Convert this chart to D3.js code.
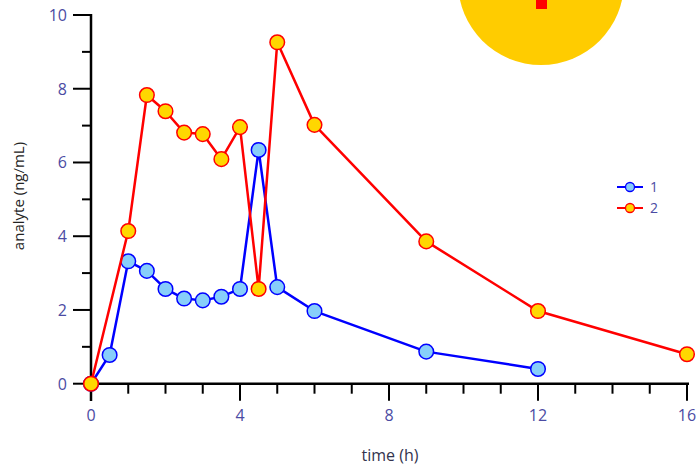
<!DOCTYPE html>
<html><head><meta charset="utf-8">
<script src="https://cdn.jsdelivr.net/npm/d3@7"></script>
<style>body{margin:0;background:#fff;}svg{display:block;font-family:"Open Sans","Noto Sans",sans-serif;}</style>
</head><body>
<svg id="c" width="699" height="465"></svg>
<script>
const times1 = [0,0.5,1,1.5,2,2.5,3,3.5,4,4.5,5,6,9,12];
const values1 = [0,0.78,3.32,3.06,2.57,2.31,2.26,2.36,2.57,6.34,2.62,1.97,0.87,0.40];
const times2 = [0,1,1.5,2,2.5,3,3.5,4,4.5,5,6,9,12,16];
const values2 = [0,4.14,7.83,7.39,6.81,6.77,6.09,6.96,2.57,9.26,7.02,3.86,1.97,0.80];
const seriesNames = ["1","2"];
const xTicksMajor = [0,4,8,12,16];
const yTicksMajor = [0,2,4,6,8,10];

const svg = d3.select("#c");
const x = d3.scaleLinear().domain([0,16]).range([91,687]);
const y = d3.scaleLinear().domain([0,10]).range([383.7,15]);
const labelColor = "#4b4ba3";

// sun decoration
svg.append("circle").attr("cx",541).attr("cy",-18).attr("r",83).attr("fill","#ffcc00");
svg.append("rect").attr("x",536).attr("y",0).attr("width",11).attr("height",9).attr("fill","#ff0000");

// x axis
const gx = svg.append("g");
gx.append("line").attr("x1",x(0)).attr("x2",x(16)+2).attr("y1",y(0)).attr("y2",y(0)).attr("stroke","#000").attr("stroke-width",2.5);
d3.range(1,17).forEach(t=>{
  const major = xTicksMajor.includes(t);
  gx.append("line").attr("x1",x(t)).attr("x2",x(t)).attr("y1",y(0)).attr("y2",y(0)+(major?17:10)).attr("stroke","#000").attr("stroke-width",2);
});
xTicksMajor.forEach(t=>{
  gx.append("text").attr("x",x(t)).attr("y",421).attr("text-anchor","middle").attr("font-size",16).attr("fill",labelColor).text(t);
});
svg.append("text").attr("x",390).attr("y",461).attr("text-anchor","middle").attr("font-size",16).attr("fill","#33334d").text("time (h)");

// y axis
const gy = svg.append("g");
gy.append("line").attr("x1",x(0)).attr("x2",x(0)).attr("y1",y(10)-1).attr("y2",401).attr("stroke","#000").attr("stroke-width",2.5);
d3.range(0,11).forEach(t=>{
  const major = yTicksMajor.includes(t);
  gy.append("line").attr("x1",x(0)-(major?18:9)).attr("x2",x(0)).attr("y1",y(t)).attr("y2",y(t)).attr("stroke","#000").attr("stroke-width",2);
});
yTicksMajor.forEach(t=>{
  gy.append("text").attr("x",67).attr("y",y(t)+6).attr("text-anchor","end").attr("font-size",16).attr("fill",labelColor).text(t);
});
svg.append("text").attr("transform","translate(24,196) rotate(-90)").attr("text-anchor","middle").attr("font-size",15).attr("fill","#222").text("analyte (ng/mL)");

// series
const series = [
  {t:times1, v:values1, stroke:"#0000ff", fill:"#87cefa"},
  {t:times2, v:values2, stroke:"#ff0000", fill:"#ffd700"}
];
const line = d3.line().x(d=>x(d[0])).y(d=>y(d[1]));
series.forEach(s=>{
  const pts = s.t.map((t,i)=>[t,s.v[i]]);
  svg.append("path").datum(pts).attr("d",line).attr("fill","none").attr("stroke",s.stroke).attr("stroke-width",2.5).attr("stroke-linejoin","round");
  svg.selectAll(null).data(pts).enter().append("circle")
    .attr("cx",d=>x(d[0])).attr("cy",d=>y(d[1])).attr("r",7.3)
    .attr("fill",s.fill).attr("stroke",s.stroke).attr("stroke-width",1.5);
});

// legend
series.forEach((s,i)=>{
  const ly = 187 + i*21;
  svg.append("line").attr("x1",617).attr("x2",643).attr("y1",ly).attr("y2",ly).attr("stroke",s.stroke).attr("stroke-width",2);
  svg.append("circle").attr("cx",630).attr("cy",ly).attr("r",4.5).attr("fill",s.fill).attr("stroke",s.stroke).attr("stroke-width",1.3);
  svg.append("text").attr("x",650).attr("y",ly+5).attr("font-size",14).attr("fill",labelColor).text(seriesNames[i]);
});
</script>
</body></html>
